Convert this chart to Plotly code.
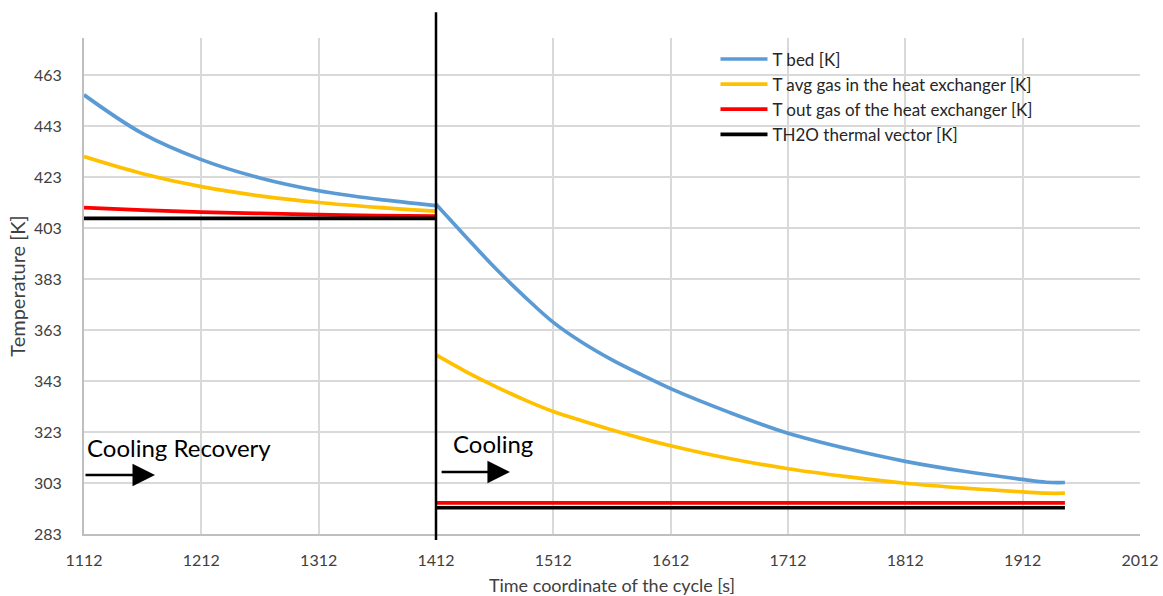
import plotly.graph_objects as go

# ---- data ----
t_left = [1112, 1162, 1212, 1262, 1312, 1362, 1412]
bed_left = [455.2, 440.0, 429.8, 422.6, 417.6, 414.3, 411.8]
avg_left = [431.0, 424.3, 419.2, 415.6, 413.0, 411.1, 409.6]
out_left = [411.0, 410.0, 409.2, 408.7, 408.2, 407.9, 407.7]
h2o_left = [406.8, 406.8, 406.8, 406.8, 406.8, 406.8, 406.8]

t_right = [1412, 1437, 1462, 1487, 1512, 1537, 1562, 1587, 1612, 1662, 1712,
           1762, 1812, 1862, 1912, 1932, 1948]
bed_right = [412.3, 399.8, 387.5, 376.3, 366.0, 358.0, 351.3, 345.5, 340.0, 330.7, 322.5,
             316.5, 311.5, 307.6, 304.4, 303.3, 303.2]
avg_right = [353.2, 346.8, 341.0, 335.7, 331.0, 327.3, 323.8, 320.5, 317.6, 312.6, 308.6,
             305.5, 302.9, 301.0, 299.5, 299.0, 299.0]
out_right = [295.2, 295.2, 295.2, 295.2, 295.2, 295.2, 295.2, 295.2, 295.2, 295.2, 295.2,
             295.2, 295.2, 295.2, 295.2, 295.2, 295.2]
h2o_right = [293.3, 293.3, 293.3, 293.3, 293.3, 293.3, 293.3, 293.3, 293.3, 293.3, 293.3,
             293.3, 293.3, 293.3, 293.3, 293.3, 293.3]

series_names = ["T bed [K]", "T avg gas in the heat exchanger [K]",
                "T out gas of the heat exchanger [K]", "TH2O thermal vector [K]"]
series_colors = ["#5b9bd5", "#ffc000", "#ff0000", "#000000"]

x_ticks = [1112, 1212, 1312, 1412, 1512, 1612, 1712, 1812, 1912, 2012]
y_ticks = [283, 303, 323, 343, 363, 383, 403, 423, 443, 463]

phase_switch = 1412
phase_labels = ["Cooling Recovery", "Cooling"]

FONT = "Lato, Carlito, Calibri, sans-serif"

fig = go.Figure()
lefts = [bed_left, avg_left, out_left, h2o_left]
rights = [bed_right, avg_right, out_right, h2o_right]
for name, col, yl, yr in zip(series_names, series_colors, lefts, rights):
    fig.add_trace(go.Scatter(
        x=t_left + [None] + t_right,
        y=yl + [None] + yr,
        mode="lines", name=name,
        line=dict(color=col, width=3.7, shape="spline", smoothing=1.0),
        connectgaps=False,
    ))

# vertical phase separator
fig.add_shape(type="line", xref="x", yref="paper",
              x0=phase_switch, x1=phase_switch, y0=-0.012, y1=1.052,
              line=dict(color="black", width=2.5), layer="above")

# phase labels and arrows
fig.add_annotation(x=1112.5, y=317.0, xref="x", yref="y", text=phase_labels[0],
                   showarrow=False, xanchor="left", yanchor="middle",
                   font=dict(family=FONT, size=24, color="black"))
fig.add_annotation(x=1425, y=318.4, xref="x", yref="y", text=phase_labels[1],
                   showarrow=False, xanchor="left", yanchor="middle",
                   font=dict(family=FONT, size=24, color="black"))
fig.add_annotation(x=1172.5, y=306.1, ax=1112, ay=306.1, xref="x", yref="y",
                   axref="x", ayref="y", text="", showarrow=True,
                   arrowhead=2, arrowsize=1.8, arrowwidth=2.5, arrowcolor="black")
fig.add_annotation(x=1475, y=307.3, ax=1415.5, ay=307.3, xref="x", yref="y",
                   axref="x", ayref="y", text="", showarrow=True,
                   arrowhead=2, arrowsize=1.8, arrowwidth=2.5, arrowcolor="black")

fig.update_layout(
    width=1163, height=596,
    margin=dict(l=84, r=23, t=38, b=62),
    paper_bgcolor="white", plot_bgcolor="white",
    font=dict(family=FONT, size=16, color="#404040"),
    showlegend=True,
    legend=dict(x=0.598, y=0.993, xanchor="left", yanchor="top",
                bgcolor="rgba(0,0,0,0)", font=dict(size=17, color="#262626"),
                tracegroupgap=0, itemwidth=47),
    xaxis=dict(range=[1112, 2012], tickvals=x_ticks, ticktext=[str(v) for v in x_ticks],
               automargin=False,
               showgrid=True, gridcolor="#d9d9d9", gridwidth=2,
               showline=True, linecolor="#bfbfbf", linewidth=2,
               zeroline=False, ticks="outside", ticklen=11, tickcolor="rgba(0,0,0,0)",
               tickfont=dict(size=16, color="#404040"),
               title=dict(text="Time coordinate of the cycle [s]", standoff=12,
                          font=dict(size=18, color="#404040"))),
    yaxis=dict(range=[283, 477.5], tickvals=y_ticks, ticktext=[str(v) for v in y_ticks],
               automargin=False,
               showgrid=True, gridcolor="#d9d9d9", gridwidth=2,
               showline=True, linecolor="#bfbfbf", linewidth=2,
               zeroline=False, ticks="outside", ticklen=17, tickcolor="rgba(0,0,0,0)",
               tickfont=dict(size=16, color="#404040"),
               title=dict(text="Temperature [K]", standoff=3,
                          font=dict(size=20, color="#404040"))),
)

fig.write_html("out.html")
